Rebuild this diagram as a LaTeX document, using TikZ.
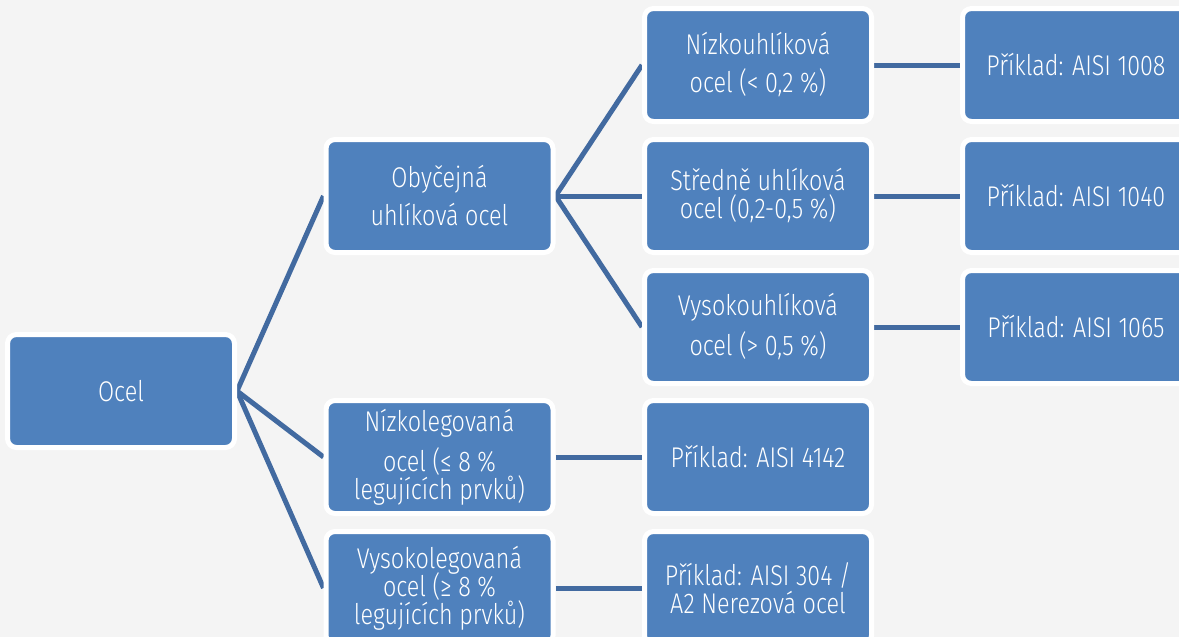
\documentclass[tikz,border=0pt]{standalone}
\usepackage{fontspec}
\setmainfont{Fira Sans}[UprightFont={* Light}, FakeStretch=0.82]
\usepackage{tikz}
\usetikzlibrary{backgrounds}
\definecolor{modra}{RGB}{79,129,189}
\definecolor{cara}{RGB}{66,106,160}
\definecolor{pozadi}{RGB}{244,244,244}
\newcommand\blokfont{\fontsize{28.5}{28}\selectfont\lineskiplimit=-100pt\relax\lineskip=0pt\relax}
\tikzset{
  blok/.style={draw=white, line width=5pt, fill=modra, rounded corners=9pt,
    minimum width=227pt, minimum height=113pt, inner sep=0pt,
    text=white, align=center, font=\blokfont},
  spoj/.style={draw=cara, line width=5pt}
}
\begin{document}
\begin{tikzpicture}[x=1pt, y=-1pt]
  \useasboundingbox (0,0) rectangle (1179,637);

  % Koren
  \node[blok] (ocel) at (121,391) {Ocel};

  % Druhy oceli
  \node[blok] (obycejna) at (439.5,196) {Obyčejná\\[10pt]uhlíková ocel};
  \node[blok] (nizkoleg) at (439.5,457) {Nízkolegovaná\\[12pt]ocel (≤ 8 \%\\legujících prvků)};
  \node[blok] (vysokoleg) at (439.5,588) {Vysokolegovaná\\ocel (≥ 8 \%\\legujících prvků)};

  % Uhlikove oceli
  \node[blok] (nizkouhl) at (758,65) {Nízkouhlíková\\[10pt]ocel (< 0,2 \%)};
  \node[blok] (stredne) at (758,196) {Středně uhlíková\\ocel (0,2-0,5 \%)};
  \node[blok] (vysokouhl) at (758,327) {Vysokouhlíková\\[12pt]ocel (> 0,5 \%)};
  \node[blok] (pr4142) at (758,457) {Příklad: AISI 4142};
  \node[blok] (pr304) at (758,588) {Příklad: AISI 304 /\\A2 Nerezová ocel};

  % Priklady
  \node[blok] (pr1008) at (1076,65) {Příklad: AISI 1008};
  \node[blok] (pr1040) at (1076,196) {Příklad: AISI 1040};
  \node[blok] (pr1065) at (1076,327) {Příklad: AISI 1065};

  % Spoje pod bloky
  \begin{pgfonlayer}{background}
    \fill[pozadi] (0,0) rectangle (1179,637);
    \draw[spoj] (ocel.east) -- (obycejna.west);
    \draw[spoj] (ocel.east) -- (nizkoleg.west);
    \draw[spoj] (ocel.east) -- (vysokoleg.west);
    \draw[spoj] (obycejna.east) -- (nizkouhl.west);
    \draw[spoj] (obycejna.east) -- (stredne.west);
    \draw[spoj] (obycejna.east) -- (vysokouhl.west);
    \draw[spoj] (nizkoleg.east) -- (pr4142.west);
    \draw[spoj] (vysokoleg.east) -- (pr304.west);
    \draw[spoj] (nizkouhl.east) -- (pr1008.west);
    \draw[spoj] (stredne.east) -- (pr1040.west);
    \draw[spoj] (vysokouhl.east) -- (pr1065.west);
  \end{pgfonlayer}
\end{tikzpicture}
\end{document}
